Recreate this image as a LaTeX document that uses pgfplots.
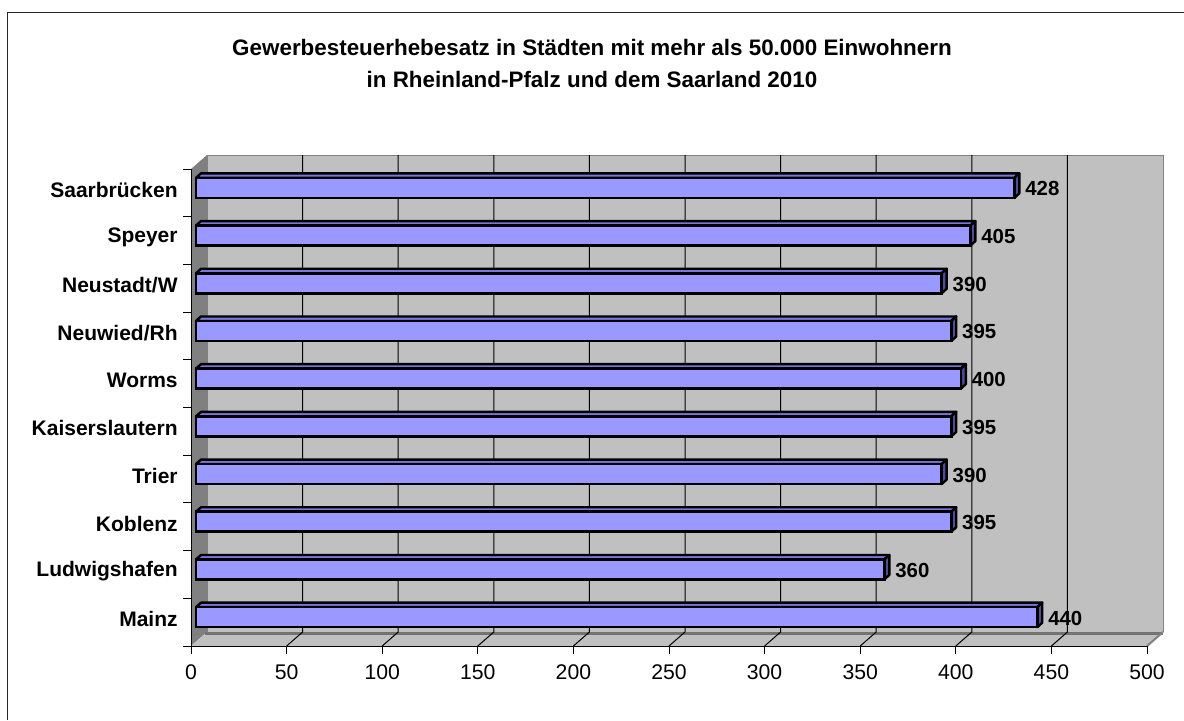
\documentclass[border=0pt]{standalone}
\usepackage{pgfplots}
\pgfplotsset{compat=1.18}
\usepackage{pgfplotstable}
\usepackage{fontspec}
\setmainfont{Liberation Sans}
\definecolor{barfront}{HTML}{9999FF}
\definecolor{bartop}{HTML}{7777DD}
\definecolor{barside}{HTML}{4D4D99}
\definecolor{wall}{HTML}{C0C0C0}
\definecolor{wallside}{HTML}{808080}
\newcommand\lblfont{\bfseries\fontsize{10.2}{12}\selectfont}
\newcommand\catfont{\bfseries\fontsize{10.5}{12}\selectfont}
\newcommand\titlefont{\bfseries\fontsize{11.2}{13}\selectfont}

\pgfplotstableread{
y v
0 440
1 360
2 395
3 390
4 395
5 400
6 395
7 390
8 405
9 428
}\data

\begin{document}
\begin{tikzpicture}[x=0.5pt,y=-0.5pt]
\useasboundingbox (0,0) rectangle (1184,720);
\draw[line width=0.75pt, black!85] (7.5,720) -- (7.5,12.5) -- (1184,12.5);
\node[anchor=base, font=\titlefont] at (592,55) {Gewerbesteuerhebesatz in Städten mit mehr als 50.000 Einwohnern};
\node[anchor=base, font=\titlefont] at (592,87) {in Rheinland-Pfalz und dem Saarland 2010};
% walls and floor
\fill[wall] (207,155) rectangle (1163,632);
\draw[wallside, line width=0.5pt] (207,632) -- (207,155) -- (1163,155) -- (1163,632);
\fill[wallside] (191,169) -- (207,155) -- (207,632) -- (191,646) -- cycle;
\fill[wall] (191,646) -- (207,632) -- (1163,632) -- (1147,646) -- cycle;
\draw[wallside!90!black, line width=1.5pt] (205,633.5) -- (1163,633.5);
\draw[wallside, line width=1pt] (1147,646) -- (1163,632);
\foreach \v in {50,100,...,450} {
  \draw[black, line width=0.5pt] (191+1.912*\v,646) -- (207+1.912*\v,632) -- (207+1.912*\v,155);
}
\begin{axis}[
  at={(95.5pt,-323pt)}, anchor=south west,
  scale only axis, width=478pt, height=238.5pt,
  xmin=0, xmax=500, ymin=-0.5, ymax=9.5,
  axis lines*=left, axis line style={-, black, line width=0.5pt},
  xtick={0,50,...,500},
  tick align=outside, major tick length=4pt,
  tick style={black, line width=0.5pt},
  ytick={-0.5,0.5,...,9.5},
  yticklabels={},
  extra y ticks={0,...,9},
  extra y tick labels={Mainz,Ludwigshafen,Koblenz,Trier,Kaiserslautern,Worms,Neuwied/Rh,Neustadt/W,Speyer,Saarbrücken},
  extra y tick style={major tick length=0pt},
  ticklabel style={font=\fontsize{10.6}{12}\selectfont},
  yticklabel style={font=\catfont, inner sep=0pt, xshift=-6.5pt, yshift=1.5pt},
  xticklabel style={inner sep=0pt, yshift=-5pt},
  /pgf/number format/assume math mode=true,
  clip=false,
]
\pgfplotsinvokeforeach{0,...,9}{
  \pgfplotstablegetelem{#1}{v}\of\data
  \edef\temp{%
    \noexpand\filldraw[fill=bartop, draw=black, line width=1.2pt, line join=round]
      ([xshift=2.5pt,yshift=7.5pt]axis cs:0,#1) -- ([xshift=2.5pt,yshift=7.5pt]axis cs:\pgfplotsretval,#1) -- ([xshift=5pt,yshift=9.75pt]axis cs:\pgfplotsretval,#1) -- ([xshift=5pt,yshift=9.75pt]axis cs:0,#1) -- cycle;
    \noexpand\filldraw[fill=barside, draw=black, line width=1.2pt, line join=round]
      ([xshift=2.5pt,yshift=7.5pt]axis cs:\pgfplotsretval,#1) -- ([xshift=2.5pt,yshift=-2.5pt]axis cs:\pgfplotsretval,#1) -- ([xshift=5pt,yshift=-0.25pt]axis cs:\pgfplotsretval,#1) -- ([xshift=5pt,yshift=9.75pt]axis cs:\pgfplotsretval,#1) -- cycle;
    \noexpand\node[anchor=west, inner sep=0pt, font=\noexpand\lblfont] at ([xshift=7.8pt,yshift=2pt]axis cs:\pgfplotsretval,#1) {\pgfplotsretval};
  }%
  \temp
}
\addplot[xbar, bar width=10pt, fill=barfront, draw=black, line width=1.3pt, xshift=2.5pt, yshift=2.5pt] table[x=v, y=y] {\data};
\end{axis}
\end{tikzpicture}
\end{document}
